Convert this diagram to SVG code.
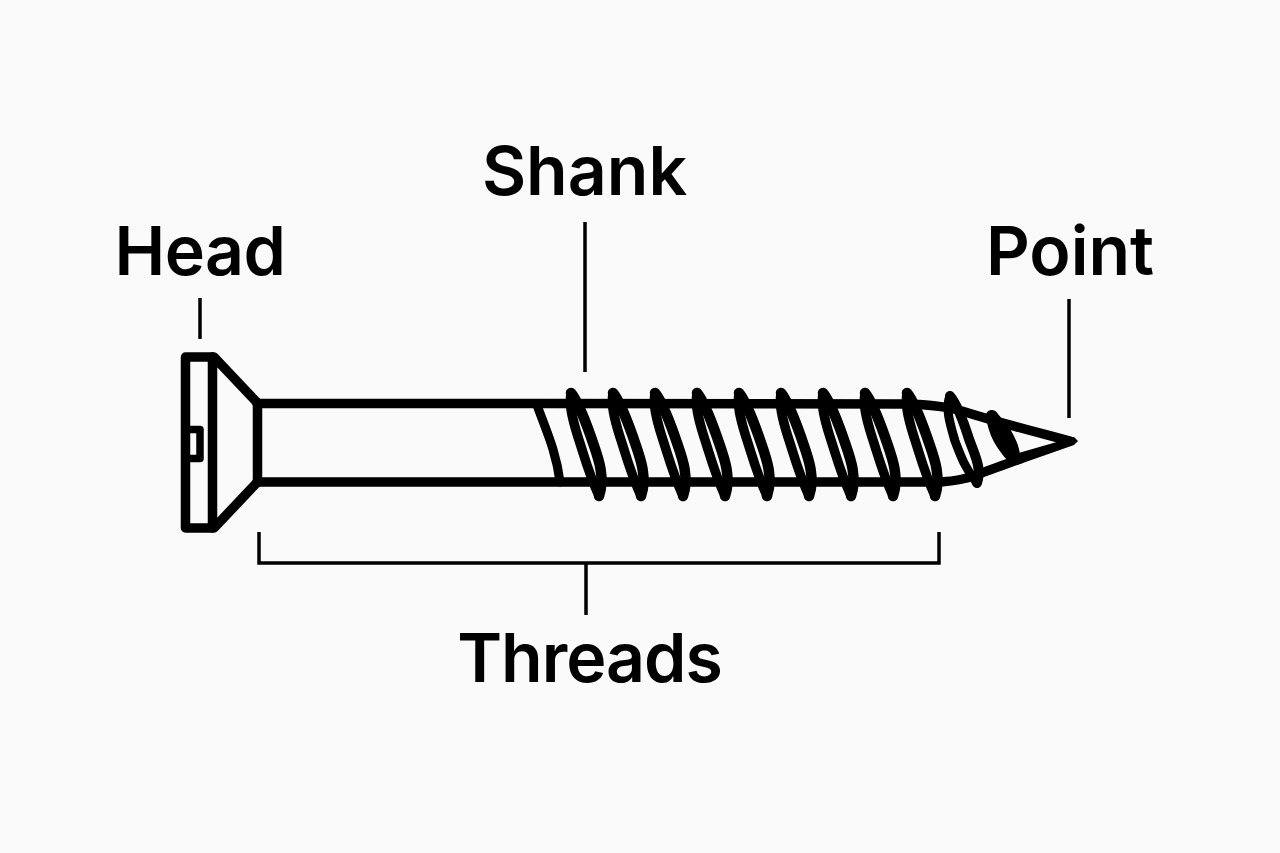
<svg xmlns="http://www.w3.org/2000/svg" width="1280" height="853" viewBox="0 0 1280 853">
<style>
.o{fill:none;stroke:#000;stroke-linecap:round;stroke-linejoin:round}
.l{fill:none;stroke:#000;stroke-width:3.5;stroke-linecap:butt;stroke-linejoin:miter}
.t{font-family:Inter,"Liberation Sans",sans-serif;font-weight:600;font-size:68px;fill:#000;text-anchor:middle}
</style>
<defs>
<g id="thread">
<path class="o" stroke-width="9.5" d="M571 393C569 405 572 418 578 437C584 455 588 472 599 496"/>
<path class="o" stroke-width="10.500" d="M571 393C577 400 585 420 591 437C597 455 606 475 599 496"/>
</g>
</defs>
<rect width="1280" height="853" fill="#fafafa"/>
<g id="screw">
<path class="o" stroke-width="9.500" d="M212 357H185.500V528H212"/>
<path class="o" stroke-width="9.500" d="M212.500 357V528M214 357L257.500 403M214 528L257.500 482M257.500 403V482"/>
<path class="o" stroke-width="7.500" d="M190 429.500H200V458.500H190"/>
<path class="o" stroke-width="9.500" d="M257 403.500H540C700 404 850 403 905 404C935 404.500 950 407 965 412C1000 423 1040 433 1070 441"/>
<path class="o" stroke-width="9.500" d="M257 482H935C945 482 955 481 967 478C985 472 1000 466 1020 459"/>
<path d="M1015 454L1074 437L1078 441L1074 445L1020 464Z" fill="#000"/>
<path class="o" stroke-width="9" d="M537 405C545 428 556 450 560 482"/>
<use href="#thread"/>
<use href="#thread" x="42"/>
<use href="#thread" x="84"/>
<use href="#thread" x="126"/>
<use href="#thread" x="168"/>
<use href="#thread" x="210"/>
<use href="#thread" x="252"/>
<use href="#thread" x="294"/>
<use href="#thread" x="336"/>
<path class="o" stroke-width="9" d="M950 396C945 408 950 424 955 441C961 457 966 470 977 483"/>
<path class="o" stroke-width="10" d="M950 396C957 404 963 420 969 439C975 456 982 468 977 483"/>
<path d="M986 416C986 409 995 408 998 414L1008 426C1015 436 1020 448 1020 456L1008 461C997 449 988 435 986 416Z" fill="#000"/>
</g>
<g id="connectors">
<path class="l" d="M200 298V339"/>
<path class="l" d="M585 222V372"/>
<path class="l" d="M1069 299V418"/>
<path class="l" d="M259 532V563H939V532M586 563V615"/>
</g>
<g id="label-head"><text class="t" x="200" y="275" letter-spacing="-0.5">Head</text></g>
<g id="label-shank"><text class="t" x="584.500" y="195">Shank</text></g>
<g id="label-point"><text class="t" x="1070" y="275">Point</text></g>
<g id="label-threads"><text class="t" x="589.500" y="682" letter-spacing="-1">Threads</text></g>
</svg>
